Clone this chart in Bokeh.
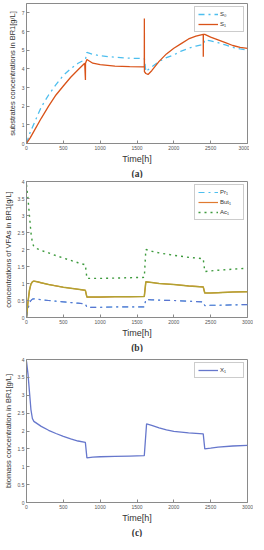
from bokeh.plotting import figure
from bokeh.layouts import column
from bokeh.models import Legend, LegendItem, Title, FixedTicker, Range1d
from bokeh.embed import file_html
from bokeh.resources import INLINE

# ---------- data: panel (a) substrates ----------
t_s0 = [0, 50, 100, 200, 300, 400, 500, 600, 700, 800, 820, 900, 1000, 1200, 1400, 1600,
        1620, 1650, 1700, 1800, 1900, 2000, 2100, 2200, 2300, 2400, 2420, 2500, 2600, 2700,
        2800, 2900, 3000]
s0 = [0, 0.6, 1.05, 1.95, 2.6, 3.15, 3.65, 4.0, 4.3, 4.5, 4.88, 4.78, 4.7, 4.62, 4.57, 4.55,
      3.85, 3.95, 4.1, 4.4, 4.6, 4.75, 4.95, 5.1, 5.22, 5.3, 5.55, 5.5, 5.4, 5.28,
      5.15, 5.07, 5.0]
t_s1 = [0, 50, 100, 200, 300, 400, 500, 600, 700, 790, 800, 801, 820, 900, 1000, 1200, 1400,
        1599, 1600, 1601, 1620, 1650, 1700, 1800, 1900, 2000, 2100, 2200, 2300, 2399, 2400,
        2401, 2420, 2500, 2600, 2700, 2800, 2900, 3000]
s1 = [0, 0.3, 0.65, 1.35, 2.0, 2.6, 3.08, 3.55, 3.95, 4.3, 3.4, 4.3, 4.5, 4.3, 4.22, 4.15, 4.12,
      4.1, 6.7, 3.85, 3.75, 3.7, 3.9, 4.4, 4.8, 5.1, 5.35, 5.6, 5.75, 5.85, 4.65,
      5.85, 5.85, 5.7, 5.55, 5.4, 5.25, 5.15, 5.1]

# ---------- data: panel (b) VFAs ----------
t_vfa = [0, 20, 40, 60, 80, 100, 150, 200, 300, 400, 500, 600, 700, 799, 820, 1000, 1200, 1400,
         1599, 1620, 1700, 1800, 2000, 2200, 2399, 2420, 2500, 2600, 2800, 3000]
ac1 = [3.9, 3.5, 3.0, 2.5, 2.2, 2.08, 2.02, 1.97, 1.9, 1.82, 1.75, 1.68, 1.61, 1.55, 1.15, 1.15,
       1.16, 1.17, 1.18, 2.0, 1.95, 1.9, 1.83, 1.77, 1.73, 1.35, 1.37, 1.39, 1.42, 1.45]
but1 = [0, 0.45, 0.8, 0.98, 1.05, 1.07, 1.05, 1.02, 0.97, 0.93, 0.89, 0.86, 0.83, 0.8, 0.6, 0.6,
        0.61, 0.61, 0.62, 1.05, 1.03, 1.0, 0.97, 0.93, 0.9, 0.72, 0.72, 0.73, 0.75, 0.76]
pr1 = [0, 0.25, 0.42, 0.5, 0.54, 0.55, 0.54, 0.52, 0.5, 0.48, 0.46, 0.44, 0.42, 0.4, 0.3, 0.3,
       0.31, 0.31, 0.31, 0.53, 0.52, 0.51, 0.5, 0.48, 0.46, 0.35, 0.36, 0.36, 0.37, 0.38]

# ---------- data: panel (c) biomass ----------
t_x = [0, 20, 40, 60, 80, 100, 150, 200, 300, 400, 500, 600, 700, 799, 820, 900, 1000, 1200,
       1400, 1599, 1630, 1700, 1800, 1900, 2000, 2200, 2399, 2420, 2500, 2600, 2800, 3000]
x1 = [3.95, 3.6, 3.1, 2.6, 2.35, 2.27, 2.2, 2.13, 2.02, 1.93, 1.85, 1.78, 1.72, 1.68, 1.25, 1.27,
      1.28, 1.29, 1.3, 1.31, 2.2, 2.16, 2.09, 2.03, 1.99, 1.95, 1.92, 1.5, 1.52, 1.55, 1.58, 1.6]

x_ticks = [0, 500, 1000, 1500, 2000, 2500, 3000]
ya_ticks = [0, 1, 2, 3, 4, 5, 6, 7]
yb_ticks = [0, 0.5, 1, 1.5, 2, 2.5, 3, 3.5, 4]

AXC = "#8a8a8a"
TXT = "#333333"


def make_fig(frame_h, y_max, y_ticks, ylabel, tag, top_border):
    p = figure(frame_width=221, frame_height=frame_h,
               x_range=Range1d(0, 3000), y_range=Range1d(0, y_max),
               output_backend="svg", toolbar_location=None,
               min_border_left=4, min_border_right=6, min_border_top=top_border,
               min_border_bottom=0)
    p.grid.visible = False
    p.outline_line_color = AXC
    p.outline_line_width = 1
    p.background_fill_color = "white"
    p.xaxis.ticker = FixedTicker(ticks=x_ticks)
    p.yaxis.ticker = FixedTicker(ticks=y_ticks)
    for ax in (p.xaxis[0], p.yaxis[0]):
        ax.axis_line_color = AXC
        ax.major_tick_line_color = AXC
        ax.major_tick_in = 3
        ax.major_tick_out = 0
        ax.minor_tick_line_color = None
        ax.major_label_text_font = "Liberation Sans"
        ax.major_label_text_font_size = "5px"
        ax.major_label_text_color = "#555555"
        ax.major_label_standoff = 2
        ax.axis_label_text_font = "Liberation Sans"
        ax.axis_label_text_font_style = "normal"
        ax.axis_label_text_color = TXT
    p.xaxis.axis_label = "Time[h]"
    p.xaxis.axis_label_text_font_size = "9px"
    p.xaxis.axis_label_standoff = 1
    p.yaxis.axis_label = ylabel
    p.yaxis.axis_label_text_font_size = "7.5px"
    p.yaxis.axis_label_standoff = 2
    t = Title(text=tag, align="center", text_font="Liberation Serif",
              text_font_size="9.5px", text_font_style="bold", text_color=TXT,
              standoff=0)
    p.add_layout(t, "below")
    return p


def style_legend(p, items):
    leg = Legend(items=items, location="top_right",
                 label_text_font="Liberation Sans", label_text_font_size="6px",
                 label_text_color=TXT, glyph_width=20, glyph_height=8,
                 label_height=8, spacing=2, padding=3, margin=3,
                 label_standoff=2, border_line_color="#9a9a9a",
                 border_line_width=1, background_fill_alpha=1)
    p.add_layout(leg)


# ---------- panel (a) ----------
pa = make_fig(140, 7.5, ya_ticks, "substrates concentrations in BR1[g/L]", "(a)", 3)
ra = pa.line(t_s0, s0, line_color="#4DBEEE", line_width=1.3, line_dash="dashdot")
rb = pa.line(t_s1, s1, line_color="#D95319", line_width=1.3)
style_legend(pa, [LegendItem(label="S\u2080", renderers=[ra]),
                  LegendItem(label="S\u2081", renderers=[rb])])

# ---------- panel (b) ----------
pb = make_fig(136, 4, yb_ticks, "concentrations of VFAs in BR1[g/L]", "(b)", 3)
# legend-colour lines, drawn underneath the visible curves
l1 = pb.line(t_vfa, pr1, line_color="#4DBEEE", line_width=1.0, line_dash="dashdot")
l2 = pb.line(t_vfa, but1, line_color="#E07A30", line_width=1.2)
r1 = pb.line(t_vfa, pr1, line_color="#5B74D0", line_width=1.2, line_dash="dashdot")
r2 = pb.line(t_vfa, but1, line_color="#B3A232", line_width=1.5)
r3 = pb.line(t_vfa, ac1, line_color="#3C9A3C", line_width=1.4, line_dash="dotted")
style_legend(pb, [LegendItem(label="Pr\u2081", renderers=[l1]),
                  LegendItem(label="But\u2081", renderers=[l2]),
                  LegendItem(label="Ac\u2081", renderers=[r3])])

# ---------- panel (c) ----------
pc = make_fig(143, 4, yb_ticks, "biomass concentration in BR1[g/L]", "(c)", 7)
rx = pc.line(t_x, x1, line_color="#6677CC", line_width=1.3)
style_legend(pc, [LegendItem(label="X\u2081", renderers=[rx])])

lay = column(pa, pb, pc, spacing=0)
open("out.html", "w").write(file_html(lay, INLINE))
